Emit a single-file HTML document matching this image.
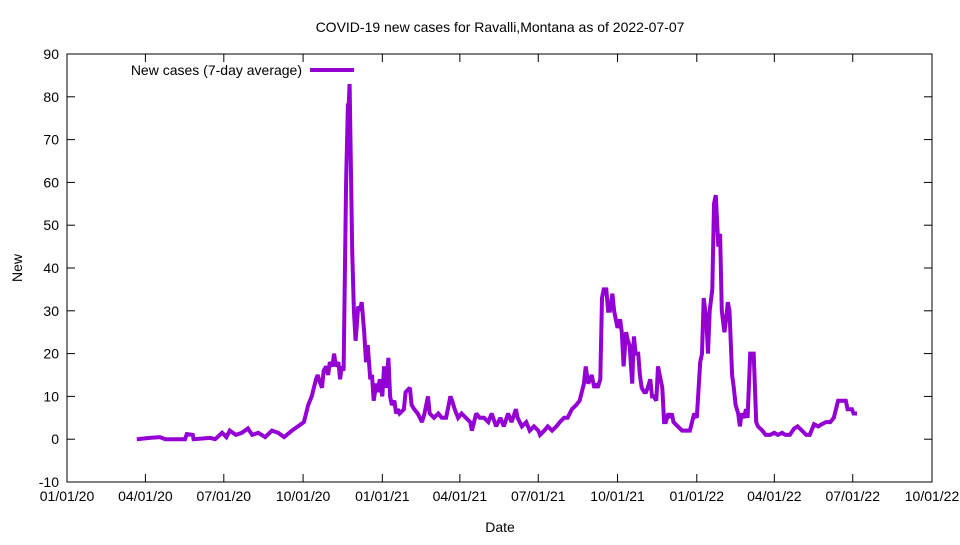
<!DOCTYPE html>
<html><head><meta charset="utf-8"><style>
html,body{margin:0;padding:0;background:#fff;}
svg text{font-family:"Liberation Sans",sans-serif;font-size:14px;fill:#000;}
</style></head><body>
<svg id="chart" width="960" height="540" viewBox="0 0 960 540" xmlns="http://www.w3.org/2000/svg">
<rect x="0" y="0" width="960" height="540" fill="#fff"/>
<text x="500" y="32" text-anchor="middle">COVID-19 new cases for Ravalli,Montana as of 2022-07-07</text>
<g id="axes"></g>
<g id="series"></g>
<rect x="67" y="54" width="865" height="428" fill="none" stroke="#000" stroke-width="1"/>
<text x="500" y="532" text-anchor="middle">Date</text>
<text x="0" y="0" transform="translate(22,268) rotate(-90)" text-anchor="middle">New</text>
<g>
<text x="302" y="75" text-anchor="end">New cases (7-day average)</text>
<line x1="310" y1="70" x2="354" y2="70" stroke="#9400d3" stroke-width="4"/>
</g>
</svg>
<script>
const days=[81,96,108,114,137,139,146,147,166,172,180,185,189,196,203,210,215,222,230,238,245,252,261,268,275,280,284,289,291,294,296,298,301,303,305,308,310,312,315,317,319,321,324,326,327,328,331,333,335,338,340,342,345,347,349,352,354,356,359,361,363,366,368,370,373,375,377,380,382,384,386,391,393,398,400,403,407,412,415,419,421,426,431,435,440,445,447,450,454,458,463,468,470,475,479,484,489,493,498,503,507,512,516,521,523,528,533,537,542,547,549,554,558,563,568,572,577,581,586,591,595,600,602,605,607,609,612,614,616,619,621,623,626,628,630,633,635,637,639,642,644,646,649,651,653,656,658,660,663,665,667,670,672,674,677,679,681,684,686,688,691,693,695,698,700,702,704,709,714,718,723,728,731,735,737,739,742,744,746,749,751,753,756,758,760,763,765,767,769,772,774,776,779,781,783,786,788,790,793,795,797,800,802,807,811,816,821,825,830,834,839,844,848,853,858,862,867,872,876,881,886,890,895,904,906,911,913,917];
const values=[0,0.3,0.5,0,0,1.2,1,0,0.3,0,1.5,0.5,2,1,1.5,2.5,1,1.5,0.5,2,1.5,0.5,2,3,4,8,10,14,15,13,12,16,17,15,18,17,20,17,18,14,17,16,60,78,78,83,44,30,23,31,30,32,25,18,22,14,15,9,13,11,14,10,17,12,19,10,8,9,6,7,6,7,11,12,8,7,6,4,6,10,6,5,6,5,5,10,9,7,5,6,5,4,2,6,5,5,4,6,3,5,3,6,4,7,5,3,4,2,3,2,1,2,3,2,3,4,5,5,7,8,9,13,17,13,14,15,12,13,12,14,33,35,35,30,30,34,30,28,26,28,25,17,25,23,22,13,24,20,20,15,12,11,11,12,14,10,10,9,17,15,12,4,4,6,5,6,4,3,2,2,2,6,5,18,20,33,28,20,30,35,55,57,45,48,30,25,28,32,30,15,12,8,6,3,6,5,7,5,20,20,20,4,3,2,1,1,1.5,1,1.5,1,1,2.5,3,2,1,1,3.5,3,3.5,4,4,5,9,9,7,7,6,6];
const yTicks=[-10,0,10,20,30,40,50,60,70,80,90];
const xTickDays=[0,91,182,274,366,456,547,639,731,821,912,1004];
const xTickLabels=["01/01/20","04/01/20","07/01/20","10/01/20","01/01/21","04/01/21","07/01/21","10/01/21","01/01/22","04/01/22","07/01/22","10/01/22"];
const NS="http://www.w3.org/2000/svg";
const X0=67,X1=932,Y0=482,Y1=54,DMAX=1004,VMIN=-10,VMAX=90;
function xs(d){return X0+d*(X1-X0)/DMAX;}
function ys(v){return Y0-(v-VMIN)*(Y0-Y1)/(VMAX-VMIN);}
const axes=document.getElementById('axes');
function mk(tag,attrs){const e=document.createElementNS(NS,tag);for(const k in attrs)e.setAttribute(k,attrs[k]);return e;}
yTicks.forEach(v=>{
  const y=ys(v);
  const t1=mk('line',{x1:X0,y1:y,x2:X0+8,y2:y,stroke:'#000'});
  
  
  axes.appendChild(t1);
  const t2=mk('line',{x1:X1-8,y1:y,x2:X1,y2:y,stroke:'#000'});
  
  
  axes.appendChild(t2);
  const l=mk('text',{x:X0-8,y:y+5,'text-anchor':'end'});
  l.textContent=String(v);
  
  
  axes.appendChild(l);
});
xTickDays.forEach((d,i)=>{
  const x=xs(d);
  const t1=mk('line',{x1:x,y1:Y0,x2:x,y2:Y0-8,stroke:'#000'});
  
  
  axes.appendChild(t1);
  const t2=mk('line',{x1:x,y1:Y1,x2:x,y2:Y1+8,stroke:'#000'});
  
  
  axes.appendChild(t2);
  const l=mk('text',{x:x,y:Y0+19,'text-anchor':'middle'});
  l.textContent=xTickLabels[i];
  
  
  axes.appendChild(l);
});
const pts=days.map((d,i)=>xs(d).toFixed(1)+','+ys(values[i]).toFixed(1)).join(' ');
const line=mk('polyline',{points:pts,fill:'none',stroke:'#9400d3','stroke-width':4,'stroke-linejoin':'miter','stroke-miterlimit':2});


document.getElementById('series').appendChild(line);
</script>
</body></html>
